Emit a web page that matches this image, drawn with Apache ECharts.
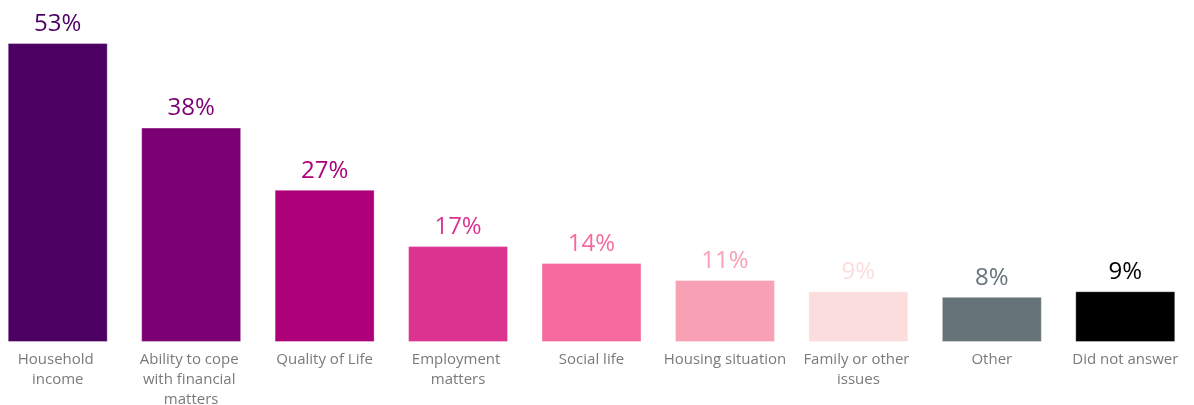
<!DOCTYPE html>
<html>
<head>
<meta charset="utf-8">
<script src="https://cdn.jsdelivr.net/npm/echarts@6/dist/echarts.min.js"></script>
<style>
  html, body { margin: 0; padding: 0; background: #ffffff; overflow: hidden; }
  #chart { width: 1203px; height: 405px; margin-left: -9px; }
</style>
</head>
<body>
<div id="chart"></div>
<script>
// Reasons given, share of respondents (%)
const categories = [
  'Household income',
  'Ability to cope with financial matters',
  'Quality of Life',
  'Employment matters',
  'Social life',
  'Housing situation',
  'Family or other issues',
  'Other',
  'Did not answer'
];
const values = [53, 38, 27, 17, 14, 11, 9, 8, 9];
const barColors = ['#4b0062', '#7c0074', '#ae0078', '#dc3391', '#f66a9f', '#f9a1b4', '#fcdddd', '#667378', '#000000'];

const chart = echarts.init(document.getElementById('chart'), null, { renderer: 'canvas' });

chart.setOption({
  animation: false,
  grid: { left: 0, right: 2, top: 43, bottom: 63, outerBoundsMode: 'none' },
  xAxis: {
    type: 'category',
    data: categories,
    axisLine: { show: false },
    axisTick: { show: false },
    axisLabel: {
      interval: 0,
      margin: 8,
      color: '#7a7a7a',
      fontFamily: 'Open Sans',
      fontSize: 15,
      lineHeight: 20,
      width: 128,
      overflow: 'break'
    }
  },
  yAxis: {
    type: 'value',
    min: 0,
    max: 53,
    show: false,
    splitLine: { show: false }
  },
  series: [{
    type: 'bar',
    barWidth: 100,
    data: values.map((v, i) => ({
      value: v,
      itemStyle: { color: barColors[i] },
      label: { color: barColors[i] }
    })),
    itemStyle: { borderColor: 'rgba(255,255,255,0.35)', borderWidth: 1 },
    label: {
      show: true,
      position: 'top',
      distance: 7,
      fontFamily: 'Open Sans',
      fontSize: 24,
      formatter: p => p.value + '%'
    }
  }]
});
</script>
</body>
</html>
